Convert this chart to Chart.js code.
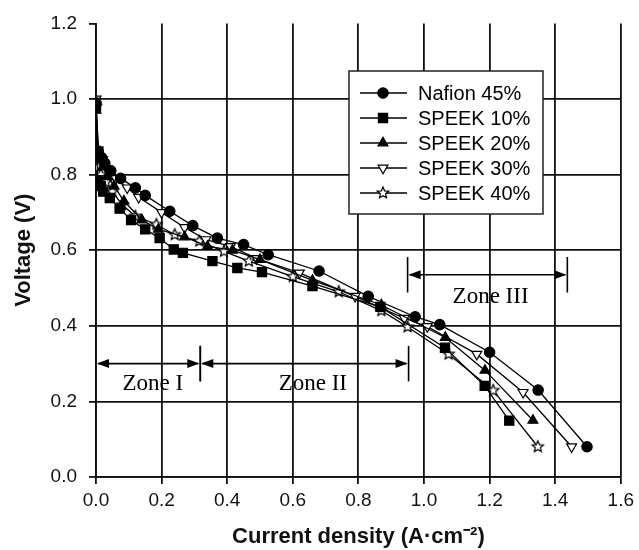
<!DOCTYPE html>
<html><head><meta charset="utf-8">
<script src="https://cdn.jsdelivr.net/npm/chart.js@4/dist/chart.umd.min.js"></script>
<style>html,body{margin:0;padding:0;background:#fff}</style>
</head><body>
<canvas id="c" width="639" height="550"></canvas>
<script>
const seriesNames = ['Nafion 45%', 'SPEEK 10%', 'SPEEK 20%', 'SPEEK 30%', 'SPEEK 40%'];

const nafionX = [0, 0.007, 0.017, 0.027, 0.045, 0.075, 0.12, 0.15, 0.225, 0.295, 0.37, 0.45, 0.525, 0.68, 0.83, 0.973, 1.048, 1.2, 1.348, 1.497];
const nafionY = [0.99, 0.862, 0.845, 0.83, 0.81, 0.79, 0.765, 0.745, 0.703, 0.665, 0.632, 0.615, 0.588, 0.545, 0.478, 0.424, 0.403, 0.33, 0.23, 0.08];

const speek10X = [0, 0.005, 0.015, 0.022, 0.042, 0.072, 0.107, 0.15, 0.194, 0.237, 0.265, 0.355, 0.431, 0.506, 0.66, 0.867, 1.064, 1.185, 1.26];
const speek10Y = [0.98, 0.785, 0.77, 0.755, 0.738, 0.71, 0.68, 0.655, 0.632, 0.602, 0.593, 0.571, 0.553, 0.542, 0.505, 0.45, 0.342, 0.241, 0.149];

const speek20X = [0, 0.008, 0.02, 0.035, 0.055, 0.085, 0.14, 0.19, 0.27, 0.34, 0.416, 0.50, 0.66, 0.87, 1.065, 1.186, 1.332];
const speek20Y = [0.97, 0.845, 0.82, 0.795, 0.77, 0.73, 0.68, 0.655, 0.635, 0.61, 0.60, 0.575, 0.52, 0.455, 0.369, 0.282, 0.15];

const speek30X = [0, 0.007, 0.02, 0.035, 0.06, 0.095, 0.13, 0.2, 0.27, 0.335, 0.41, 0.49, 0.62, 0.79, 0.94, 1.01, 1.161, 1.302, 1.45];
const speek30Y = [1.0, 0.865, 0.84, 0.815, 0.79, 0.765, 0.74, 0.70, 0.66, 0.628, 0.61, 0.578, 0.54, 0.478, 0.42, 0.398, 0.325, 0.224, 0.08];

const speek40X = [0, 0.005, 0.015, 0.03, 0.05, 0.08, 0.12, 0.184, 0.24, 0.315, 0.39, 0.466, 0.60, 0.74, 0.87, 0.95, 1.075, 1.211, 1.347];
const speek40Y = [0.98, 0.82, 0.80, 0.78, 0.755, 0.72, 0.69, 0.668, 0.641, 0.624, 0.597, 0.571, 0.53, 0.49, 0.44, 0.397, 0.325, 0.229, 0.08];

const xTicks = [0, 0.2, 0.4, 0.6, 0.8, 1.0, 1.2, 1.4, 1.6];
const yTicks = [0, 0.2, 0.4, 0.6, 0.8, 1.0, 1.2];

const zoneNames = ['Zone I', 'Zone II', 'Zone III'];
const zoneStart = [0, 0.318, 0.95];
const zoneEnd = [0.318, 0.953, 1.437];
const zoneArrowV = [0.30, 0.30, 0.535];
const zoneLabelX = [0.173, 0.661, 1.203];
const zoneLabelV = [0.245, 0.245, 0.475];
const zoneBarHalf = 0.047;

function makeStar(r) {
  const s = Math.ceil(r * 2 + 4);
  const c = document.createElement('canvas');
  c.width = s; c.height = s;
  const g = c.getContext('2d');
  g.beginPath();
  for (let i = 0; i < 10; i++) {
    const a = -Math.PI / 2 + i * Math.PI / 5;
    const rr = i % 2 ? r * 0.45 : r;
    g.lineTo(s / 2 + rr * Math.cos(a), s / 2 + rr * Math.sin(a));
  }
  g.closePath();
  g.fillStyle = '#fff'; g.fill();
  g.lineWidth = 1.2; g.strokeStyle = '#000'; g.stroke();
  return c;
}
const starImg = makeStar(6);

function pts(xs, ys) { return xs.map((x, i) => ({x: x, y: ys[i]})); }

const styles = [
  {pointStyle: 'circle', radius: 5.2, rotation: 0, bg: '#000'},
  {pointStyle: 'rect', radius: 6.5, rotation: 0, bg: '#000'},
  {pointStyle: 'triangle', radius: 5.7, rotation: 0, bg: '#000'},
  {pointStyle: 'triangle', radius: 5.7, rotation: 180, bg: '#fff'},
  {pointStyle: starImg, radius: 6, rotation: 0, bg: '#fff'}
];
const allData = [pts(nafionX, nafionY), pts(speek10X, speek10Y), pts(speek20X, speek20Y), pts(speek30X, speek30Y), pts(speek40X, speek40Y)];

const datasets = seriesNames.map((n, i) => ({
  label: n,
  data: allData[i],
  showLine: true,
  borderColor: '#000',
  borderWidth: 1.3,
  backgroundColor: styles[i].bg,
  pointBackgroundColor: styles[i].bg,
  pointBorderColor: '#000',
  pointBorderWidth: 1.2,
  pointStyle: styles[i].pointStyle,
  pointRadius: styles[i].radius,
  pointRotation: styles[i].rotation,
  tension: 0
}));

const annotPlugin = {
  id: 'annot',
  afterDatasetsDraw(chart) {
    const ctx = chart.ctx, xs = chart.scales.x, ys = chart.scales.y;
    ctx.save();
    ctx.strokeStyle = '#000'; ctx.fillStyle = '#000'; ctx.lineWidth = 1.6;
    const head = (x, y, dir) => {
      ctx.beginPath();
      ctx.moveTo(x, y);
      ctx.lineTo(x - dir * 12, y - 4.5);
      ctx.lineTo(x - dir * 12, y + 4.5);
      ctx.closePath(); ctx.fill();
    };
    for (let i = 0; i < zoneNames.length; i++) {
      const x1 = xs.getPixelForValue(zoneStart[i]);
      const x2 = xs.getPixelForValue(zoneEnd[i]);
      const y = ys.getPixelForValue(zoneArrowV[i]);
      const yT = ys.getPixelForValue(zoneArrowV[i] + zoneBarHalf);
      const yB = ys.getPixelForValue(zoneArrowV[i] - zoneBarHalf);
      ctx.beginPath(); ctx.moveTo(x1 + 2, y); ctx.lineTo(x2 - 2, y); ctx.stroke();
      head(x1 + 1, y, -1);
      head(x2 - 1, y, 1);
      [x1, x2].forEach(xx => {
        if (zoneStart[i] === 0 && xx === x1) return;
        ctx.beginPath(); ctx.moveTo(xx, yT); ctx.lineTo(xx, yB); ctx.stroke();
      });
      ctx.font = '23px "Liberation Serif", "Times New Roman", serif';
      ctx.textAlign = 'center'; ctx.textBaseline = 'middle';
      ctx.fillText(zoneNames[i], xs.getPixelForValue(zoneLabelX[i]), ys.getPixelForValue(zoneLabelV[i]));
    }
    ctx.restore();
  },
  afterDraw(chart) {
    const ctx = chart.ctx;
    ctx.save();
    const bx = 349, by = 71, bw = 194, bh = 143;
    ctx.fillStyle = '#fff'; ctx.fillRect(bx, by, bw, bh);
    ctx.strokeStyle = '#222'; ctx.lineWidth = 1.5; ctx.strokeRect(bx, by, bw, bh);
    ctx.textAlign = 'left'; ctx.textBaseline = 'middle';
    ctx.font = '20px "Liberation Sans", Arial, sans-serif';
    seriesNames.forEach((n, i) => {
      const y = 93 + i * 25;
      ctx.strokeStyle = '#000'; ctx.lineWidth = 1.5;
      ctx.beginPath(); ctx.moveTo(360, y); ctx.lineTo(407, y); ctx.stroke();
      ctx.fillStyle = styles[i].bg; ctx.strokeStyle = '#000'; ctx.lineWidth = 1.2;
      Chart.helpers.drawPoint(ctx, {pointStyle: styles[i].pointStyle, radius: styles[i].radius, rotation: styles[i].rotation, borderWidth: 1.2}, 383, y);
      ctx.fillStyle = '#000';
      ctx.fillText(n, 418, y + 1);
    });
    ctx.restore();
  }
};

const gridCol = '#111';
new Chart(document.getElementById('c'), {
  type: 'scatter',
  data: {datasets: datasets},
  plugins: [annotPlugin],
  options: {
    responsive: false,
    animation: false,
    layout: {padding: {top: 21, right: 13, left: 0, bottom: 0}},
    plugins: {legend: {display: false}, tooltip: {enabled: false}},
    scales: {
      x: {
        type: 'linear', min: 0, max: 1.6,
        afterBuildTicks: s => { s.ticks = xTicks.map(v => ({value: v})); },
        afterFit: s => { s.height = 73; },
        ticks: {callback: v => Number(v).toFixed(1), color: '#111', padding: 5,
          font: {family: '"Liberation Sans", Arial, sans-serif', size: 19}, maxRotation: 0},
        grid: {color: gridCol, lineWidth: 1.8, tickLength: 7, tickColor: gridCol},
        border: {color: gridCol, width: 1.8},
        title: {display: true, text: 'Current density (A·cm⁻²)', color: '#111',
          font: {family: '"Liberation Sans", Arial, sans-serif', size: 22, weight: 'bold'}, padding: {bottom: 0}}
      },
      y: {
        type: 'linear', min: 0, max: 1.2,
        afterBuildTicks: s => { s.ticks = yTicks.map(v => ({value: v})); },
        afterFit: s => { s.width = 96; },
        ticks: {callback: v => Number(v).toFixed(1), color: '#111', padding: 12,
          font: {family: '"Liberation Sans", Arial, sans-serif', size: 19}},
        grid: {color: c => (c.tick && Math.abs(c.tick.value - 1.2) < 1e-9) ? 'rgba(0,0,0,0)' : gridCol,
          lineWidth: 1.8, tickLength: 7, tickColor: gridCol},
        border: {color: gridCol, width: 1.8},
        title: {display: true, text: 'Voltage (V)', color: '#111',
          font: {family: '"Liberation Sans", Arial, sans-serif', size: 22, weight: 'bold'}, padding: {top: 11}}
      }
    }
  }
});
</script>
</body></html>
